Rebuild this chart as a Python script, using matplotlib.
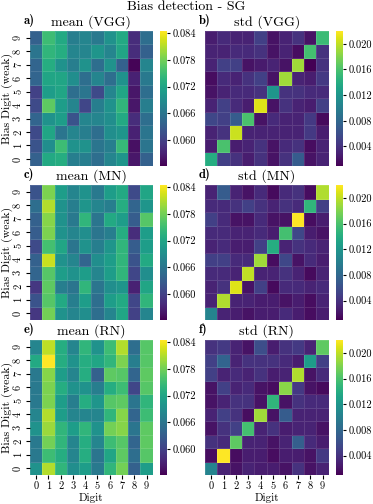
import numpy as np
import matplotlib
matplotlib.use("Agg")
import matplotlib.pyplot as plt

plt.rcParams["font.family"] = "cmr10"
plt.rcParams["mathtext.fontset"] = "cm"
plt.rcParams["axes.formatter.use_mathtext"] = True

digits = [str(d) for d in range(10)]

# ---------------------------------------------------------------
# Values, rows listed from bias digit 9 (top) down to 0
mean_vgg = [
    [0.0635, 0.075, 0.0725, 0.067, 0.068, 0.0665, 0.0695, 0.0725, 0.058, 0.065],
    [0.066, 0.074, 0.073, 0.068, 0.068, 0.070, 0.068, 0.072, 0.058, 0.0635],
    [0.064, 0.073, 0.0695, 0.067, 0.0695, 0.065, 0.0695, 0.0635, 0.0545, 0.068],
    [0.064, 0.072, 0.072, 0.069, 0.065, 0.068, 0.065, 0.0695, 0.057, 0.0665],
    [0.060, 0.071, 0.072, 0.065, 0.066, 0.061, 0.068, 0.072, 0.056, 0.065],
    [0.061, 0.077, 0.071, 0.068, 0.0605, 0.067, 0.0695, 0.074, 0.056, 0.067],
    [0.064, 0.0695, 0.071, 0.062, 0.068, 0.068, 0.069, 0.0725, 0.058, 0.065],
    [0.061, 0.072, 0.066, 0.068, 0.067, 0.065, 0.069, 0.070, 0.057, 0.066],
    [0.062, 0.069, 0.075, 0.0695, 0.0695, 0.066, 0.067, 0.0745, 0.0555, 0.066],
    [0.0635, 0.0725, 0.073, 0.067, 0.067, 0.065, 0.068, 0.070, 0.056, 0.0635],
]
std_vgg = [
    [0.0027, 0.0035, 0.003, 0.003, 0.005, 0.002, 0.003, 0.004, 0.002, 0.0153],
    [0.003, 0.003, 0.0035, 0.0035, 0.004, 0.002, 0.003, 0.0017, 0.0157, 0.004],
    [0.003, 0.005, 0.005, 0.002, 0.0025, 0.003, 0.002, 0.019, 0.001, 0.004],
    [0.0017, 0.0035, 0.003, 0.004, 0.005, 0.002, 0.019, 0.003, 0.0027, 0.0045],
    [0.002, 0.003, 0.0035, 0.0035, 0.004, 0.012, 0.004, 0.004, 0.0035, 0.0035],
    [0.003, 0.005, 0.0035, 0.0027, 0.021, 0.002, 0.004, 0.003, 0.0027, 0.005],
    [0.0055, 0.005, 0.007, 0.016, 0.002, 0.0035, 0.003, 0.003, 0.0045, 0.0015],
    [0.003, 0.004, 0.0203, 0.003, 0.003, 0.003, 0.003, 0.003, 0.0045, 0.0027],
    [0.0027, 0.016, 0.0027, 0.003, 0.004, 0.002, 0.0035, 0.004, 0.0017, 0.003],
    [0.014, 0.005, 0.004, 0.0027, 0.004, 0.002, 0.004, 0.007, 0.002, 0.003],
]
mean_mn = [
    [0.062, 0.0785, 0.071, 0.068, 0.0695, 0.0665, 0.071, 0.0725, 0.061, 0.072],
    [0.065, 0.081, 0.0695, 0.067, 0.070, 0.068, 0.067, 0.073, 0.064, 0.070],
    [0.0635, 0.079, 0.0695, 0.0665, 0.074, 0.066, 0.0725, 0.071, 0.063, 0.0765],
    [0.063, 0.0785, 0.0695, 0.068, 0.069, 0.066, 0.067, 0.073, 0.058, 0.071],
    [0.061, 0.0755, 0.072, 0.066, 0.0695, 0.067, 0.070, 0.074, 0.063, 0.071],
    [0.0635, 0.082, 0.0695, 0.068, 0.064, 0.069, 0.071, 0.074, 0.062, 0.0725],
    [0.064, 0.0765, 0.071, 0.0695, 0.071, 0.068, 0.071, 0.074, 0.0605, 0.069],
    [0.059, 0.077, 0.067, 0.066, 0.074, 0.066, 0.069, 0.070, 0.057, 0.072],
    [0.062, 0.0765, 0.0725, 0.067, 0.071, 0.065, 0.071, 0.0725, 0.0605, 0.074],
    [0.059, 0.078, 0.0695, 0.068, 0.069, 0.065, 0.068, 0.072, 0.060, 0.068],
]
std_mn = [
    [0.003, 0.007, 0.003, 0.002, 0.0035, 0.0015, 0.0035, 0.004, 0.0017, 0.0195],
    [0.0035, 0.0035, 0.004, 0.005, 0.004, 0.003, 0.004, 0.0035, 0.0147, 0.005],
    [0.005, 0.0035, 0.002, 0.002, 0.0035, 0.002, 0.002, 0.022, 0.0017, 0.0027],
    [0.0035, 0.0035, 0.003, 0.003, 0.0035, 0.0027, 0.0157, 0.0055, 0.0027, 0.002],
    [0.003, 0.0035, 0.0027, 0.0027, 0.005, 0.014, 0.003, 0.004, 0.0035, 0.003],
    [0.005, 0.005, 0.0035, 0.0035, 0.019, 0.0017, 0.0055, 0.002, 0.0035, 0.0027],
    [0.0035, 0.0035, 0.003, 0.020, 0.003, 0.003, 0.004, 0.003, 0.0015, 0.003],
    [0.003, 0.004, 0.021, 0.002, 0.005, 0.0015, 0.0035, 0.0035, 0.003, 0.0035],
    [0.003, 0.0195, 0.003, 0.003, 0.0027, 0.0027, 0.002, 0.0027, 0.0017, 0.003],
    [0.0105, 0.003, 0.0027, 0.002, 0.0027, 0.0027, 0.0035, 0.0027, 0.0017, 0.0027],
]
mean_rn = [
    [0.068, 0.0815, 0.073, 0.068, 0.074, 0.0695, 0.075, 0.081, 0.065, 0.0765],
    [0.0725, 0.0845, 0.073, 0.0695, 0.073, 0.072, 0.074, 0.0785, 0.067, 0.0765],
    [0.0665, 0.079, 0.071, 0.068, 0.073, 0.0635, 0.077, 0.0765, 0.064, 0.077],
    [0.0665, 0.0785, 0.073, 0.0695, 0.0695, 0.067, 0.073, 0.075, 0.0605, 0.0765],
    [0.0665, 0.0785, 0.071, 0.067, 0.073, 0.070, 0.0765, 0.077, 0.066, 0.074],
    [0.068, 0.081, 0.071, 0.068, 0.068, 0.068, 0.074, 0.079, 0.064, 0.075],
    [0.0695, 0.080, 0.074, 0.071, 0.074, 0.0695, 0.078, 0.079, 0.066, 0.077],
    [0.0665, 0.078, 0.074, 0.068, 0.073, 0.068, 0.075, 0.0765, 0.064, 0.077],
    [0.0665, 0.075, 0.073, 0.068, 0.073, 0.066, 0.072, 0.077, 0.065, 0.0765],
    [0.0695, 0.081, 0.074, 0.069, 0.071, 0.0665, 0.074, 0.078, 0.0635, 0.071],
]
std_rn = [
    [0.004, 0.0045, 0.003, 0.002, 0.006, 0.0027, 0.004, 0.0045, 0.003, 0.0168],
    [0.005, 0.0077, 0.003, 0.004, 0.004, 0.004, 0.0035, 0.0027, 0.0125, 0.005],
    [0.005, 0.003, 0.0035, 0.003, 0.004, 0.0027, 0.003, 0.0195, 0.002, 0.0035],
    [0.002, 0.005, 0.003, 0.0035, 0.002, 0.0017, 0.0183, 0.0045, 0.002, 0.0015],
    [0.002, 0.003, 0.004, 0.004, 0.002, 0.0147, 0.002, 0.004, 0.0035, 0.0035],
    [0.003, 0.005, 0.004, 0.0017, 0.019, 0.002, 0.007, 0.003, 0.003, 0.003],
    [0.002, 0.004, 0.005, 0.0157, 0.003, 0.004, 0.0027, 0.003, 0.003, 0.002],
    [0.004, 0.0035, 0.0168, 0.003, 0.003, 0.002, 0.003, 0.0073, 0.0035, 0.0027],
    [0.0017, 0.022, 0.0017, 0.0027, 0.0027, 0.0017, 0.0027, 0.0027, 0.002, 0.0045],
    [0.0105, 0.003, 0.002, 0.003, 0.0027, 0.0027, 0.002, 0.004, 0.002, 0.003],
]

mean_ticks = [0.060, 0.066, 0.072, 0.078, 0.084]
std_ticks = [0.004, 0.008, 0.012, 0.016, 0.020]

# ---------------------------------------------------------------
W, H = 373, 504
fig = plt.figure(figsize=(W / 100, H / 100), dpi=100)

def box(x0, y0, x1, y1):
    # pixel box -> figure fraction
    return [x0 / W, 1 - y1 / H, (x1 - x0) / W, (y1 - y0) / H]

rows_y = [(31, 165.7), (185, 320), (340, 475)]
cols = [
    dict(hx=(30, 152.7), cx=(160, 167.3), vmin=0.0542, vmax=0.0845, ticks=mean_ticks, kind="mean"),
    dict(hx=(205, 328.7), cx=(336, 342.7), vmin=0.0010, vmax=0.0220, ticks=std_ticks, kind="std"),
]
panels = [
    [(mean_vgg, "a)", "VGG"), (std_vgg, "b)", "VGG")],
    [(mean_mn, "c)", "MN"), (std_mn, "d)", "MN")],
    [(mean_rn, "e)", "RN"), (std_rn, "f)", "RN")],
]

for r, (y0, y1) in enumerate(rows_y):
    for c, col in enumerate(cols):
        data, letter, net = panels[r][c]
        z = np.array(data)[::-1]  # row 0 = bias digit 0

        ax = fig.add_axes(box(col["hx"][0], y0, col["hx"][1], y1))
        mesh = ax.pcolormesh(np.arange(11), np.arange(11), z, cmap="viridis",
                             vmin=col["vmin"], vmax=col["vmax"],
                             edgecolors=(1, 1, 1, 0.12), linewidth=0.4)
        ax.set_xlim(0, 10)
        ax.set_ylim(0, 10)
        for s in ax.spines.values():
            s.set_visible(False)

        ax.set_xticks(np.arange(10) + 0.5)
        ax.set_yticks(np.arange(10) + 0.5)
        ax.tick_params(length=3, width=0.8, labelsize=7.5, pad=2)
        if r == 2:
            ax.set_xticklabels(digits)
            ax.set_xlabel("Digit", fontsize=8, labelpad=1)
        else:
            ax.set_xticks([])
        if c == 0:
            ax.set_yticklabels(digits, rotation=90, va="center")
            ax.set_ylabel("Bias Digit (weak)", fontsize=8.5)
            ax.yaxis.set_label_coords(-0.135, 0.5)
        else:
            ax.set_yticks([])

        ax.set_title(f"{col['kind']} ({net})", fontsize=10, pad=4)
        ax.text(-0.05, 1.03, letter, transform=ax.transAxes, fontsize=9,
                family="cmb10", ha="left", va="bottom")

        cax = fig.add_axes(box(col["cx"][0], y0, col["cx"][1], y1))
        cb = fig.colorbar(mesh, cax=cax, ticks=col["ticks"])
        cb.outline.set_visible(False)
        cb.ax.set_yticklabels([f"{t:.3f}" for t in col["ticks"]])
        cb.ax.tick_params(length=2.5, width=0.8, labelsize=7.5, pad=1.5)

fig.suptitle("Bias detection - SG", fontsize=10, y=1 - 7 / H, va="center")

fig.savefig("out.png", dpi=100)
